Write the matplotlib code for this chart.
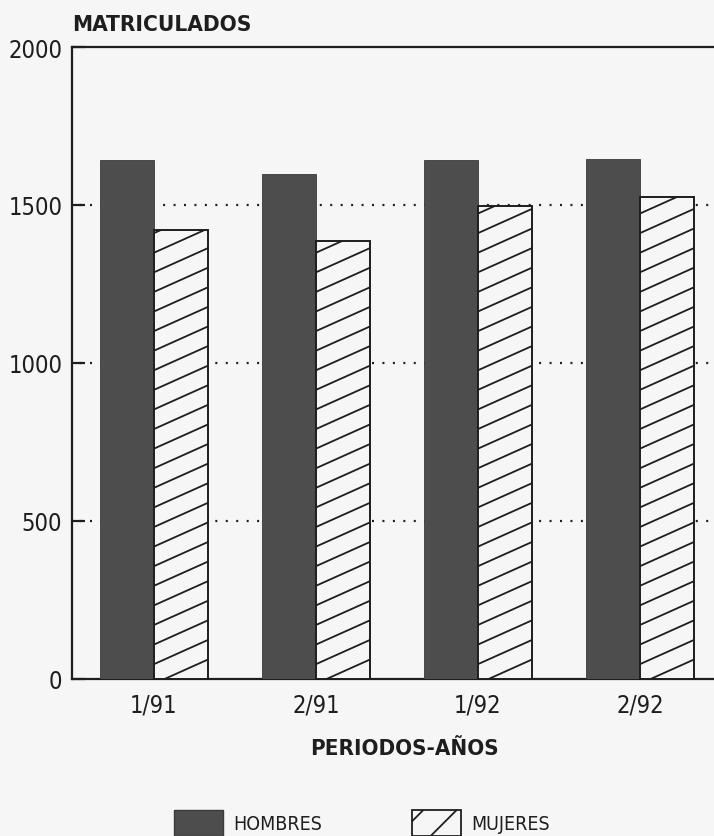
import matplotlib
matplotlib.use("Agg")
import matplotlib.pyplot as plt
from matplotlib.patches import Patch
import numpy as np

periodos = ["1/91", "2/91", "1/92", "2/92"]
hombres = [1642, 1598, 1642, 1646]
mujeres = [1420, 1385, 1498, 1524]
y_ticks = [0, 500, 1000, 1500, 2000]

plt.rcParams['font.family'] = ['DejaVu Sans']
plt.rcParams['font.stretch'] = 'condensed'
plt.rcParams['hatch.linewidth'] = 1.3
ink = "#1e1e1e"
bg = "#f6f6f6"
dark = "#4d4d4d"

fig = plt.figure(figsize=(7.14, 8.37), dpi=100, facecolor=bg)
ax = fig.add_axes([72 / 714, 1 - 680 / 837, 1 - 72 / 714, (680 - 48) / 837])
ax.set_facecolor(bg)

x = np.arange(len(periodos))
w = 0.335
ax.bar(x - w / 2, hombres, w, color=dark, edgecolor="#3a3a3a", linewidth=0.6, zorder=3)
bars_m = ax.bar(x + w / 2, mujeres, w, color=bg, edgecolor=ink, linewidth=1.4, zorder=3)

ax.set_xlim(-0.506, 3.457)
ax.set_ylim(0, 2000)

# shallow diagonal hatching, clipped to each "mujeres" bar
slope = 230.0   # data units of y per unit of x
step = 62.0
for rect in bars_m:
    x0 = rect.get_x()
    bw = rect.get_width()
    hgt = rect.get_height()
    for off in np.arange(-slope * bw, hgt, step):
        ln, = ax.plot([x0, x0 + bw], [off, off + slope * bw], color=ink, lw=1.3, zorder=3.5)
        ln.set_clip_path(rect)

ax.set_yticks(y_ticks)
ax.set_xticks(x)
ax.set_xticklabels(periodos)

for yv in y_ticks[1:-1]:
    ax.axhline(yv, color=ink, linewidth=1.6, linestyle=(6, (0.9, 3.8)), zorder=1)

ax.tick_params(axis="y", direction="in", length=9, width=1.6, pad=7, labelsize=17, colors=ink)
ax.tick_params(axis="x", length=0, pad=10, labelsize=17, colors=ink)

for s in ["left", "top", "bottom"]:
    ax.spines[s].set_linewidth(1.6)
    ax.spines[s].set_color(ink)
ax.spines["right"].set_visible(False)

ax.set_xlabel("PERIODOS-AÑOS", fontsize=16, fontweight="bold", color=ink)
ax.xaxis.set_label_coords((404 - 72) / 642, -0.093)

fig.text(72 / 714, 1 - 25 / 837, "MATRICULADOS", fontsize=16.2, fontweight="bold",
         color=ink, ha="left", va="center")

handles = [Patch(facecolor=dark, edgecolor="#3a3a3a"),
           Patch(facecolor=bg, edgecolor=ink, hatch="/", linewidth=1.3)]
fig.legend(handles, ["HOMBRES", "MUJERES"], loc="center left",
           bbox_to_anchor=(156 / 714, 1 - 824 / 837), ncol=2, frameon=False,
           fontsize=14, handlelength=2.57, handleheight=1.75, handletextpad=0.5,
           columnspacing=4.6, labelcolor=ink)

fig.savefig("out.png", dpi=100, facecolor=bg)
